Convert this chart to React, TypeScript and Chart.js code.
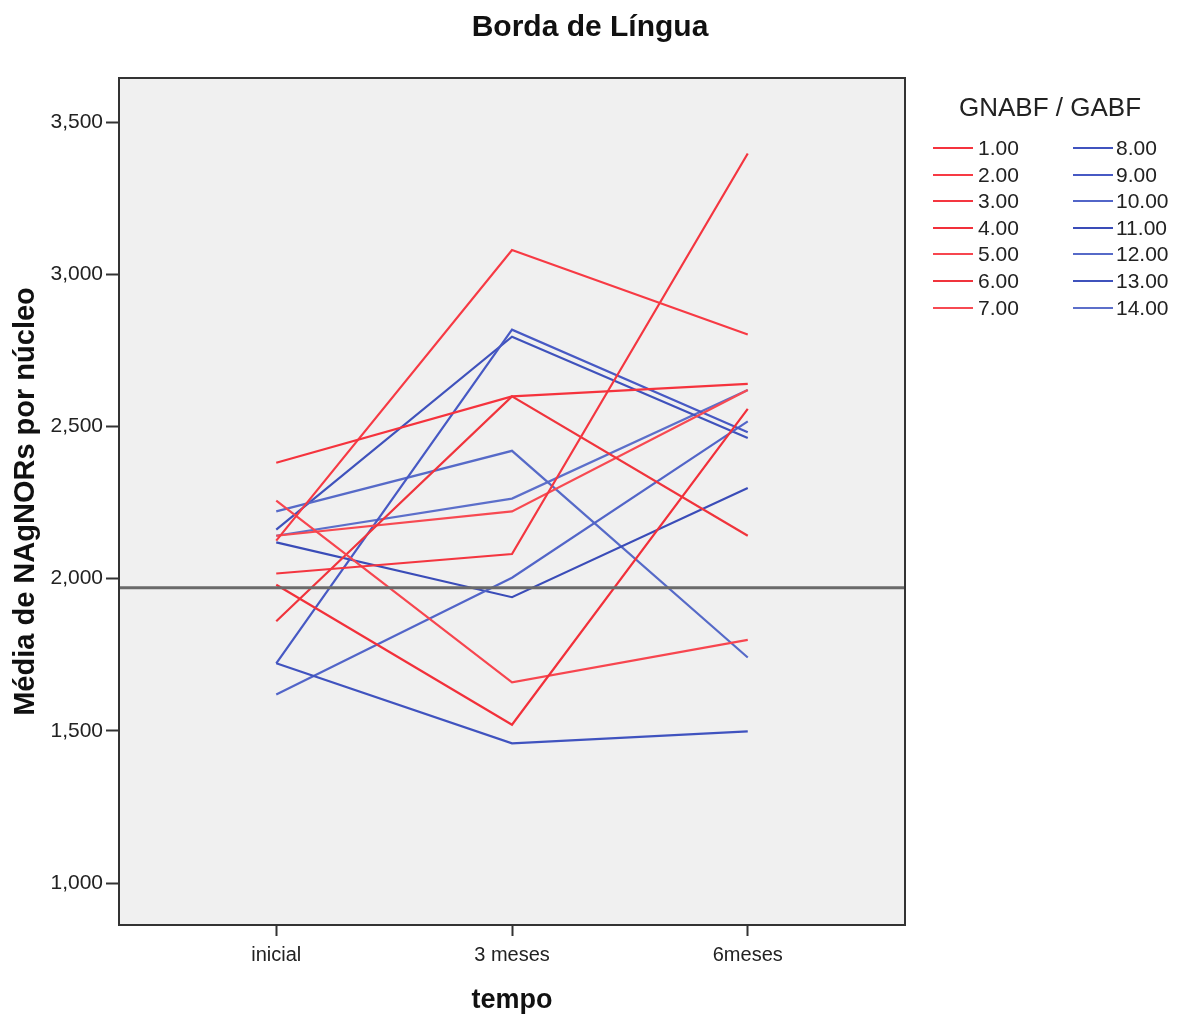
import React, { useEffect, useRef } from "react";
import { Chart, registerables } from "chart.js";

Chart.register(...registerables);

const chartTitle = "Borda de Língua";
const legendTitle = "GNABF / GABF";
const xAxisTitle = "tempo";
const yAxisTitle = "Média de NAgNORs por núcleo";

const timepoints = ["inicial", "3 meses", "6meses"];
const yTicks = [1.0, 1.5, 2.0, 2.5, 3.0, 3.5];
const referenceValue = 1.97;

const seriesLabels = [
  "1.00", "2.00", "3.00", "4.00", "5.00", "6.00", "7.00",
  "8.00", "9.00", "10.00", "11.00", "12.00", "13.00", "14.00",
];

const s1 = [2.381, 2.599, 2.64];
const s2 = [2.125, 3.08, 2.802];
const s3 = [2.017, 2.081, 3.397];
const s4 = [1.98, 1.52, 2.558];
const s5 = [2.256, 1.659, 1.799];
const s6 = [1.86, 2.599, 2.141];
const s7 = [2.141, 2.221, 2.62];
const s8 = [1.722, 1.459, 1.498];
const s9 = [1.722, 2.818, 2.481];
const s10 = [1.619, 2.003, 2.517];
const s11 = [2.119, 1.939, 2.298];
const s12 = [2.221, 2.42, 1.741];
const s13 = [2.161, 2.795, 2.462];
const s14 = [2.141, 2.263, 2.62];

const seriesValues = [s1, s2, s3, s4, s5, s6, s7, s8, s9, s10, s11, s12, s13, s14];

const seriesColors = [
  "#f5333d", "#f73a44", "#f43640", "#f2303a", "#f7464f", "#f0343c", "#f74a52",
  "#4053bf", "#4759c4", "#5265c8", "#3a4cb8", "#566ac8", "#3f52bc", "#5c6fca",
];

const FONT = '"Liberation Sans", Arial, Helvetica, sans-serif';

const X_MIN = -0.667;
const X_MAX = 2.667;
const Y_MIN = 0.862;
const Y_MAX = 3.645;

const plotFrame = {
  id: "plotFrame",
  beforeDraw(chart: any) {
    const { ctx, chartArea } = chart;
    ctx.save();
    ctx.fillStyle = "#ffffff";
    ctx.fillRect(0, 0, chart.width, chart.height);
    ctx.fillStyle = "#f0f0f0";
    ctx.fillRect(chartArea.left, chartArea.top, chartArea.right - chartArea.left, chartArea.bottom - chartArea.top);
    ctx.restore();
  },
  afterDraw(chart: any) {
    const { ctx, chartArea } = chart;
    ctx.save();
    ctx.strokeStyle = "#333333";
    ctx.lineWidth = 2;
    ctx.strokeRect(chartArea.left, chartArea.top, chartArea.right - chartArea.left, chartArea.bottom - chartArea.top);
    ctx.restore();
  },
};

export default function App() {
  const canvasRef = useRef<HTMLCanvasElement | null>(null);

  useEffect(() => {
    if (!canvasRef.current) return;
    const datasets: any[] = seriesValues.map((vals, i) => ({
      label: seriesLabels[i],
      data: vals.map((v, j) => ({ x: j, y: v })),
      borderColor: seriesColors[i],
      backgroundColor: seriesColors[i],
      borderWidth: 2.2,
      pointRadius: 0,
      tension: 0,
      fill: false,
    }));
    datasets.push({
      label: "ref",
      data: [
        { x: X_MIN, y: referenceValue },
        { x: X_MAX, y: referenceValue },
      ],
      borderColor: "#6a6a6a",
      borderWidth: 3,
      pointRadius: 0,
      fill: false,
      order: -1,
    });

    const chart = new Chart(canvasRef.current, {
      type: "line",
      data: { datasets },
      plugins: [plotFrame],
      options: {
        animation: false,
        responsive: true,
        maintainAspectRatio: false,
        layout: { padding: { top: 78, right: 280, bottom: 0, left: 0 } },
        plugins: {
          legend: { display: false },
          tooltip: { enabled: false },
          title: { display: false },
        },
        scales: {
          x: {
            type: "linear",
            min: X_MIN,
            max: X_MAX,
            afterBuildTicks: (scale: any) => {
              scale.ticks = timepoints.map((_, i) => ({ value: i }));
            },
            afterFit: (scale: any) => {
              scale.height = 95;
            },
            ticks: {
              callback: (v: any) => timepoints[Math.round(Number(v))] ?? "",
              font: { family: FONT, size: 20 },
              color: "#222222",
              padding: 7,
              maxRotation: 0,
            },
            grid: {
              drawOnChartArea: false,
              drawTicks: true,
              tickLength: 11,
              tickColor: "#333333",
              tickWidth: 2,
            },
            border: { display: false },
            title: {
              display: true,
              text: xAxisTitle,
              font: { family: FONT, size: 27, weight: "bold" },
              color: "#111111",
              padding: { top: 0, bottom: 3 },
            },
          },
          y: {
            type: "linear",
            min: Y_MIN,
            max: Y_MAX,
            afterBuildTicks: (scale: any) => {
              scale.ticks = yTicks.map((v) => ({ value: v }));
            },
            afterFit: (scale: any) => {
              scale.width = 119;
            },
            ticks: {
              callback: (v: any) => Number(v).toFixed(3).replace(".", ","),
              font: { family: FONT, size: 21 },
              color: "#222222",
              padding: 3,
            },
            grid: {
              drawOnChartArea: false,
              drawTicks: true,
              tickLength: 13,
              tickColor: "#333333",
              tickWidth: 2,
            },
            border: { display: false },
            title: {
              display: true,
              text: yAxisTitle,
              font: { family: FONT, size: 29, weight: "bold" },
              color: "#111111",
              padding: { top: 9, bottom: 0 },
            },
          },
        },
      } as any,
    });
    return () => chart.destroy();
  }, []);

  const rowStart = 148;
  const rowStep = 26.6;

  return (
    <div style={{ position: "absolute", left: 0, top: 0, width: 1185, height: 1020, background: "#fff", fontFamily: FONT }}>
      <canvas ref={canvasRef} style={{ position: "absolute", left: 0, top: 0, width: 1185, height: 1020 }} />
      <div
        style={{
          position: "absolute",
          left: 390,
          width: 400,
          top: 26 - 18,
          height: 36,
          lineHeight: "36px",
          textAlign: "center",
          fontSize: 30,
          fontWeight: "bold",
          color: "#111",
        }}
      >
        {chartTitle}
      </div>
      <div
        style={{
          position: "absolute",
          left: 900,
          width: 300,
          top: 107 - 16,
          height: 32,
          lineHeight: "32px",
          textAlign: "center",
          fontSize: 26,
          color: "#222",
        }}
      >
        {legendTitle}
      </div>
      {seriesLabels.map((lab, i) => {
        const col = i < 7 ? 0 : 1;
        const row = i % 7;
        const cy = rowStart + row * rowStep;
        const lineLeft = col === 0 ? 933 : 1073;
        const textLeft = col === 0 ? 978 : 1116;
        return (
          <React.Fragment key={lab}>
            <div
              style={{
                position: "absolute",
                left: lineLeft,
                top: cy - 1,
                width: 40,
                height: 2,
                background: seriesColors[i],
              }}
            />
            <div
              style={{
                position: "absolute",
                left: textLeft,
                top: cy - 13,
                height: 26,
                lineHeight: "26px",
                fontSize: 21,
                color: "#222",
                whiteSpace: "nowrap",
              }}
            >
              {lab}
            </div>
          </React.Fragment>
        );
      })}
    </div>
  );
}
